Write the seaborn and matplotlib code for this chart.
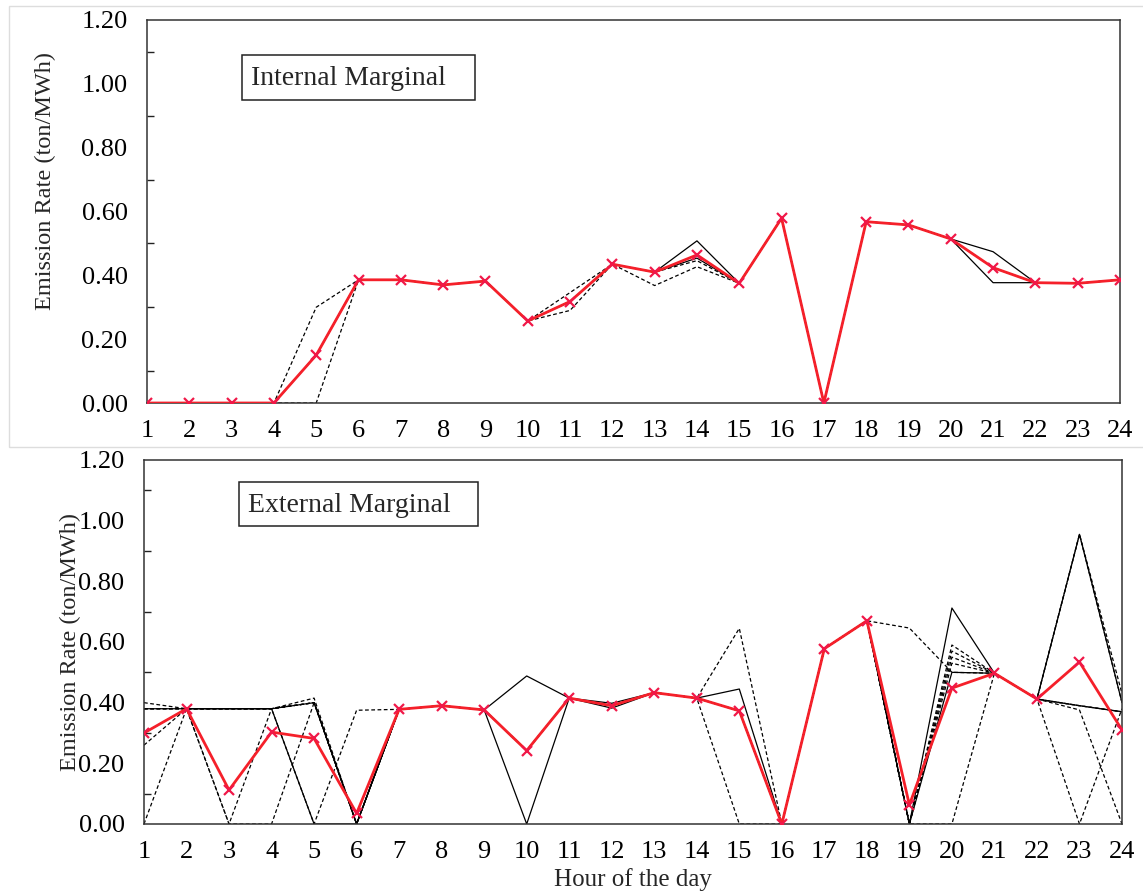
import numpy as np
import pandas as pd
import matplotlib
matplotlib.use("Agg")
import matplotlib.pyplot as plt
from matplotlib.ticker import MultipleLocator, FixedLocator, FormatStrFormatter
from matplotlib.patches import Rectangle
import seaborn as sns

sns.set_theme(style="white")
plt.rcParams['font.family'] = ['Liberation Serif', 'DejaVu Serif']

hours = list(range(1, 25))

# ---------------- Internal Marginal (top) ----------------
int_avg = [0, 0, 0, 0, 0.15, 0.386, 0.386, 0.37, 0.382, 0.257, 0.318, 0.435,
           0.41, 0.464, 0.375, 0.579, 0, 0.568, 0.558, 0.514, 0.424, 0.377, 0.375, 0.386]
int_s1 = [0, 0, 0, 0, 0.15, 0.386, 0.386, 0.37, 0.382, 0.257, 0.318, 0.435,
          0.41, 0.508, 0.375, 0.579, 0, 0.568, 0.558, 0.514, 0.474, 0.377, 0.375, 0.386]
int_s2 = [0, 0, 0, 0, 0.15, 0.386, 0.386, 0.37, 0.382, 0.257, 0.318, 0.435,
          0.41, 0.454, 0.375, 0.579, 0, 0.568, 0.558, 0.514, 0.377, 0.377, 0.375, 0.386]
int_d1 = [0, 0, 0, 0, 0.30, 0.386, 0.386, 0.37, 0.382, 0.257, 0.29, 0.435,
          0.368, 0.427, 0.375, 0.579, 0, 0.568, 0.558, 0.514, 0.424, 0.377, 0.375, 0.386]
int_d2 = [0, 0, 0, 0, 0.0, 0.386, 0.386, 0.37, 0.382, 0.257, 0.346, 0.435,
          0.41, 0.446, 0.375, 0.579, 0, 0.568, 0.558, 0.514, 0.424, 0.377, 0.375, 0.386]

# ---------------- External Marginal (bottom) ----------------
ext_avg = [0.30, 0.38, 0.112, 0.303, 0.282, 0.035, 0.378, 0.39, 0.376, 0.242, 0.415, 0.39,
           0.433, 0.415, 0.373, 0.0, 0.578, 0.67, 0.063, 0.448, 0.497, 0.412, 0.534, 0.31]
ext_s1 = [0.38, 0.38, 0.38, 0.38, 0.0, 0.0, 0.378, 0.39, 0.376, 0.488, 0.415, 0.398,
          0.433, 0.415, 0.445, 0.0, 0.578, 0.67, 0.0, 0.712, 0.497, 0.412, 0.955, 0.40]
ext_s2 = [0.30, 0.38, 0.38, 0.38, 0.40, 0.0, 0.378, 0.39, 0.376, 0.0, 0.415, 0.382,
          0.433, 0.415, 0.373, 0.0, 0.578, 0.67, 0.0, 0.50, 0.497, 0.412, 0.39, 0.37]
ext_d1 = [0.40, 0.38, 0.0, 0.38, 0.415, 0.0, 0.378, 0.39, 0.376, 0.242, 0.415, 0.39,
          0.433, 0.415, 0.645, 0.0, 0.578, 0.67, 0.646, 0.50, 0.497, 0.412, 0.955, 0.43]
ext_d2 = [0.0, 0.38, 0.0, 0.0, 0.40, 0.0, 0.378, 0.39, 0.376, 0.242, 0.415, 0.39,
          0.433, 0.415, 0.0, 0.0, 0.578, 0.67, 0.0, 0.59, 0.497, 0.412, 0.0, 0.38]
ext_d3 = [0.26, 0.38, 0.38, 0.38, 0.0, 0.375, 0.378, 0.39, 0.376, 0.242, 0.415, 0.39,
          0.433, 0.415, 0.373, 0.0, 0.578, 0.67, 0.0, 0.57, 0.497, 0.412, 0.376, 0.0]
ext_d4 = [0.38, 0.38, 0.38, 0.38, 0.40, 0.0, 0.378, 0.39, 0.376, 0.242, 0.415, 0.39,
          0.433, 0.415, 0.373, 0.0, 0.578, 0.67, 0.0, 0.55, 0.497, 0.412, 0.955, 0.40]
ext_d5 = [0.38, 0.38, 0.38, 0.38, 0.40, 0.0, 0.378, 0.39, 0.376, 0.242, 0.415, 0.39,
          0.433, 0.415, 0.373, 0.0, 0.578, 0.67, 0.0, 0.0, 0.497, 0.412, 0.39, 0.37]
ext_d6 = [0.38, 0.38, 0.38, 0.38, 0.40, 0.0, 0.378, 0.39, 0.376, 0.242, 0.415, 0.39,
          0.433, 0.415, 0.373, 0.0, 0.578, 0.67, 0.0, 0.53, 0.497, 0.412, 0.39, 0.37]

panel_titles = ["Internal Marginal", "External Marginal"]
y_label = "Emission Rate (ton/MWh)"
x_label = "Hour of the day"

panels = [
    (int_avg, [int_s1, int_s2], [int_d1, int_d2]),
    (ext_avg, [ext_s1, ext_s2], [ext_d1, ext_d2, ext_d3, ext_d4, ext_d5, ext_d6]),
]

W, H = 1143, 893
fig = plt.figure(figsize=(W / 100, H / 100), dpi=100)


def px_rect(x0, y0, x1, y1):
    return [x0 / W, 1 - y1 / H, (x1 - x0) / W, (y1 - y0) / H]


ax_top = fig.add_axes(px_rect(147, 20, 1120, 403))
ax_bot = fig.add_axes(px_rect(144, 460, 1122, 824))

# faint screenshot border around the upper panel
fig.add_artist(Rectangle((9 / W, 1 - 447 / H), 1.2, 441 / H, transform=fig.transFigure,
                         fill=False, edgecolor='#dddddd', lw=1.0))

# label boxes (pixel coords: x0, y0, x1, y1) and ylabel positions (axes coords)
boxes = [(242, 55, 475, 100), (239, 482, 478, 526)]
ylab_pos = [(-0.093, 0.58), (-0.064, 0.5)]

for ax, title, (avg, solids, dashes), box, ylp in zip(
        [ax_top, ax_bot], panel_titles, panels, boxes, ylab_pos):
    for s in solids:
        sns.lineplot(x=hours, y=s, ax=ax, color='black', lw=0.9, zorder=2)
    for d in dashes:
        sns.lineplot(x=hours, y=d, ax=ax, color='black', lw=0.9,
                     linestyle=(0, (3, 2)), zorder=2)
    sns.lineplot(x=hours, y=avg, ax=ax, color='#f5202a', lw=2.0, marker='x',
                 markersize=7, markeredgewidth=1.6, markeredgecolor='#f01848', zorder=3)

    ax.set_xlim(1, 24)
    ax.set_ylim(0, 1.2)
    ax.xaxis.set_major_locator(FixedLocator(hours))
    ax.set_xticklabels([str(h) for h in hours])
    ax.yaxis.set_major_locator(MultipleLocator(0.2))
    ax.yaxis.set_minor_locator(MultipleLocator(0.1))
    ax.yaxis.set_major_formatter(FormatStrFormatter('%.2f'))
    ax.tick_params(axis='both', which='both', direction='in', colors='#222222',
                   labelcolor='black', labelsize=19, top=False, right=False)
    ax.tick_params(axis='x', which='major', length=7, pad=12, width=1)
    ax.tick_params(axis='y', which='major', length=7, pad=14, width=1)
    ax.tick_params(axis='y', which='minor', length=5, width=1, left=True)
    for sp in ax.spines.values():
        sp.set_visible(True)
        sp.set_color('#333333')
        sp.set_linewidth(1.1)
    ax.set_ylabel(y_label, fontsize=17.5)
    ax.yaxis.set_label_coords(*ylp)
    ax.set_xlabel("")
    ax.grid(False)

    x0, y0, x1, y1 = box
    fig.add_artist(Rectangle((x0 / W, 1 - y1 / H), (x1 - x0) / W, (y1 - y0) / H,
                             transform=fig.transFigure, facecolor='white',
                             edgecolor='#222222', lw=1.1, zorder=5))
    fig.text((x0 + 9) / W, 1 - ((y0 + y1) / 2 + 1) / H, title, fontsize=20,
             va='center', ha='left', zorder=6)

ax_bot.set_xlabel(x_label, fontsize=18, labelpad=4)

fig.savefig("out.png", dpi=100)
